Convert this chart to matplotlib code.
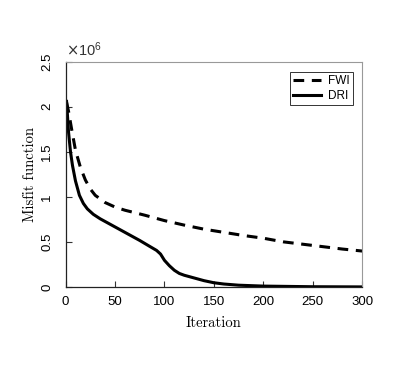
import matplotlib.pyplot as plt
from matplotlib.ticker import FuncFormatter

# misfit values are in units of 1e6
iter_fwi = [1, 3, 6, 10, 15, 20, 25, 30, 40, 50, 60, 80, 100, 120, 140,
            160, 180, 200, 220, 250, 280, 300]
misfit_fwi = [2.05, 1.95, 1.76, 1.52, 1.33, 1.19, 1.09, 1.02, 0.94, 0.89,
              0.855, 0.80, 0.74, 0.69, 0.645, 0.61, 0.575, 0.545, 0.505,
              0.465, 0.425, 0.403]

iter_dri = [1, 3, 5, 7, 10, 14, 18, 22, 28, 35, 45, 60, 75, 85, 92, 96,
            100, 105, 110, 115, 120, 130, 140, 150, 160, 175, 200, 250, 300]
misfit_dri = [2.06, 1.72, 1.50, 1.35, 1.18, 1.02, 0.93, 0.87, 0.81, 0.76,
              0.70, 0.61, 0.52, 0.455, 0.41, 0.37, 0.30, 0.24, 0.19, 0.155,
              0.135, 0.105, 0.075, 0.052, 0.038, 0.025, 0.015, 0.008, 0.006]

xticks = [0, 50, 100, 150, 200, 250, 300]
yticks = [0, 0.5, 1, 1.5, 2, 2.5]

plt.rcParams['font.family'] = ['Liberation Sans', 'DejaVu Sans']

fig = plt.figure(figsize=(4.15, 3.69), dpi=100)
ax = fig.add_axes([0.158, 0.221, 0.715, 0.612])

ax.plot(iter_fwi, misfit_fwi, color='black', lw=2.2, ls=(0, (3.5, 2.5)), label='FWI')
ax.plot(iter_dri, misfit_dri, color='black', lw=2.2, label='DRI')

ax.set_xlim(0, 300)
ax.set_ylim(0, 2.5)
ax.set_xticks(xticks)
ax.set_yticks(yticks)
ax.yaxis.set_major_formatter(FuncFormatter(lambda v, p: '%g' % v))
ax.tick_params(direction='in', length=4, width=0.8, labelsize=9.5, color='#333333')
ax.tick_params(axis='x', pad=6)
ax.tick_params(axis='y', labelrotation=90, pad=9)
for lab in ax.get_yticklabels():
    lab.set_va('center')

for s in ['left', 'bottom']:
    ax.spines[s].set_color('#222222')
    ax.spines[s].set_linewidth(0.9)
for s in ['top', 'right']:
    ax.spines[s].set_color('#999999')
    ax.spines[s].set_linewidth(0.8)

ax.text(0.0, 1.012, r'$\times\mathregular{10^{6}}$', transform=ax.transAxes,
        fontsize=10.5, ha='left', va='bottom', color='#333333')

ax.set_xlabel('Iteration', family='cmr10', fontsize=10.5, labelpad=6)
ax.set_ylabel('Misfit function', family='cmr10', fontsize=10.5, labelpad=3)

leg = ax.legend(loc='upper right', bbox_to_anchor=(0.968, 0.955), fontsize=8.5,
                frameon=True, fancybox=False, edgecolor='black',
                handlelength=2.3, handletextpad=0.6, borderpad=0.3,
                labelspacing=0.2, borderaxespad=0)
leg.get_frame().set_linewidth(0.7)

fig.savefig('out.png', dpi=100)
